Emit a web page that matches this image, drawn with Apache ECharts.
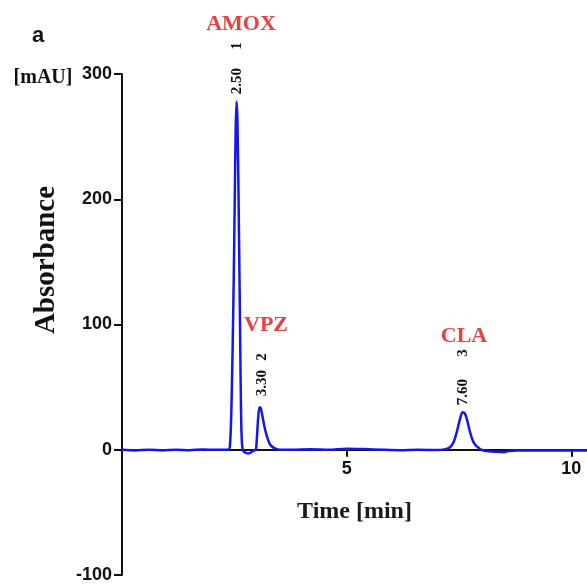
<!DOCTYPE html>
<html>
<head>
<meta charset="utf-8">
<script src="https://cdn.jsdelivr.net/npm/echarts@6/dist/echarts.min.js"></script>
<style>
  html, body { margin: 0; padding: 0; background: #fff; }
  #chart { width: 587px; height: 584px; }
</style>
</head>
<body>
<div id="chart"></div>
<script>
// retention time (min) and absorbance (mAU)
var time = [
  0, 0.3, 0.6, 0.9, 1.2, 1.5, 1.8, 2.1, 2.35,
  2.40, 2.44, 2.48, 2.51, 2.53, 2.55, 2.57, 2.60, 2.63, 2.65, 2.67,
  2.70, 2.76, 2.82, 2.88, 2.94, 2.98,
  3.00, 3.03, 3.06, 3.09, 3.13, 3.18, 3.24, 3.30, 3.38, 3.46, 3.6,
  3.8, 4.2, 4.6, 5.0, 5.4, 5.8, 6.2, 6.6, 7.0, 7.2,
  7.30, 7.38, 7.45, 7.52, 7.58, 7.63, 7.68, 7.74, 7.80, 7.86, 7.94,
  8.0, 8.1, 8.3, 8.5, 8.6, 8.8, 9.2, 9.6, 10.0, 10.35
];
var absorbance = [
  0, -0.5, 0, -0.5, 0, -0.3, 0.2, 0, 0,
  2, 40, 120, 200, 255, 278, 262, 185, 90, 30, 5,
  -1, -2.5, -3, -2, -0.5, 0,
  8, 25, 34, 33, 26, 17, 9, 4, 1.5, 0.3, 0,
  0, 0.3, 0, 0.8, 0.5, 0, -0.3, 0, -0.2, 0.5,
  2, 6, 14, 24, 30, 29, 24, 15, 8, 4, 1.5,
  0, -1, -1.5, -2, -1, -0.5, -0.5, -0.5, -0.5, -0.5
];
var yTicks = [-100, 0, 100, 200, 300];
var xTicks = [5, 10];

// peak annotations: name, peak number, retention label
var peakNames = ['AMOX', 'VPZ', 'CLA'];
var peakNums = ['1', '2', '3'];
var peakTimes = ['2.50', '3.30', '7.60'];

var points = time.map(function (t, i) { return [t, absorbance[i]]; });

var chart = echarts.init(document.getElementById('chart'));

var serif = 'Liberation Serif';
var sans = 'Liberation Sans';
var red = '#e8403c';

// grid: 300 at y=74, -100 at y=575 -> zero line sits 125.25px above the bottom
var gridTop = 74, gridBottom = 9;
var zeroOffset = (584 - gridTop - gridBottom) / 4;

// label positions (px)
var namePos = [[241, 24], [266, 325], [464, 336]];
var numPos = [[237, 46], [262, 357], [463, 353]];
var timePos = [[237, 81], [262, 383], [463, 392]];

var graphics = [
  { type: 'text', x: 38, y: 36, style: { text: 'a', font: 'bold 22px ' + sans, fill: '#111', align: 'center', verticalAlign: 'middle' } },
  { type: 'text', x: 43, y: 78, style: { text: '[mAU]', font: 'bold 20px ' + serif, fill: '#111', align: 'center', verticalAlign: 'middle' } },
  { type: 'text', x: 47, y: 260, rotation: Math.PI / 2, style: { text: 'Absorbance', font: 'bold 29px ' + serif, fill: '#111', align: 'center', verticalAlign: 'middle' } }
];
peakNames.forEach(function (n, i) {
  graphics.push({ type: 'text', x: namePos[i][0], y: namePos[i][1], style: { text: n, font: 'bold 22px ' + serif, fill: red, align: 'center', verticalAlign: 'middle' } });
  graphics.push({ type: 'text', x: numPos[i][0], y: numPos[i][1], rotation: Math.PI / 2, style: { text: peakNums[i], font: 'bold 15px ' + serif, fill: '#111', align: 'center', verticalAlign: 'middle' } });
  graphics.push({ type: 'text', x: timePos[i][0], y: timePos[i][1], rotation: Math.PI / 2, style: { text: peakTimes[i], font: 'bold 15px ' + serif, fill: '#111', align: 'center', verticalAlign: 'middle' } });
});

var option = {
  animation: false,
  grid: { left: 122, right: 0, top: gridTop, bottom: gridBottom, containLabel: false, outerBoundsMode: 'none' },
  xAxis: {
    type: 'value',
    min: 0,
    max: 10.35,
    offset: -zeroOffset,
    name: 'Time [min]',
    nameLocation: 'middle',
    nameGap: 50,
    nameTextStyle: { fontFamily: serif, fontWeight: 'bold', fontSize: 24, color: '#1a1a1a' },
    axisLine: { onZero: false, lineStyle: { color: '#111', width: 2 } },
    axisTick: { show: true, length: 7, lineStyle: { color: '#111', width: 2 }, customValues: xTicks },
    axisLabel: { customValues: xTicks, fontFamily: sans, fontWeight: 'bold', fontSize: 18, color: '#111', margin: 10 },
    splitLine: { show: false }
  },
  yAxis: {
    type: 'value',
    min: -100,
    max: 300,
    interval: 100,
    axisLine: { show: true, lineStyle: { color: '#111', width: 2 } },
    axisTick: { show: true, length: 8, lineStyle: { color: '#111', width: 2 }, customValues: yTicks },
    axisLabel: { customValues: yTicks, fontFamily: sans, fontWeight: 'bold', fontSize: 18, color: '#111', margin: 10 },
    splitLine: { show: false }
  },
  series: [{
    type: 'line',
    data: points,
    showSymbol: false,
    smooth: 0.3,
    lineStyle: { color: '#1515ee', width: 2.5 },
    z: 3
  }],
  graphic: graphics
};
chart.setOption(option);
</script>
</body>
</html>
